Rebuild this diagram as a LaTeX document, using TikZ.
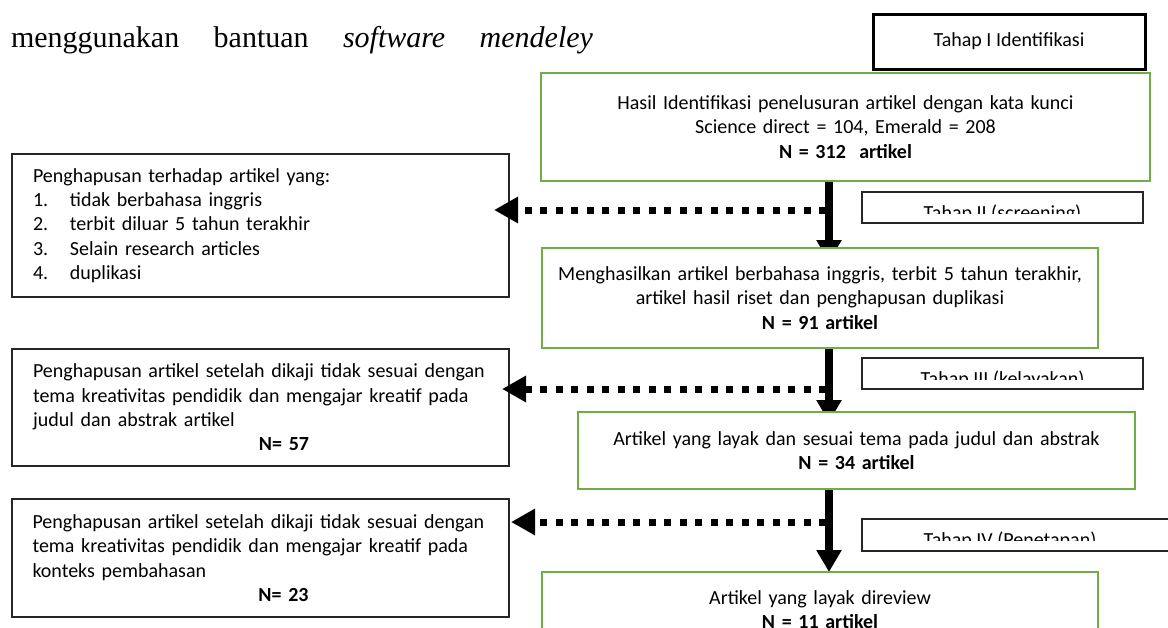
\documentclass[tikz,border=0pt]{standalone}
\usepackage{fontspec}
\setmainfont{Carlito}
\newfontfamily\titlefont{Liberation Serif}
\usetikzlibrary{arrows.meta,calc,backgrounds}
\definecolor{grn}{HTML}{70AD47}
\begin{document}
\begin{tikzpicture}[x=1pt,y=-1pt,
  every node/.style={font=\fontsize{20}{24.4}\selectfont, inner sep=0pt, outer sep=0pt},
  greenbox/.style={draw=grn, line width=2.6pt, fill=white, align=center, anchor=north west},
  graybox/.style={draw=black!85, line width=1.3pt, fill=white, anchor=north west, align=left},
  tahapbox/.style={draw=black!85, line width=1.5pt, fill=white, anchor=north west},
  flowarrow/.style={line width=8pt, -{Triangle[width=24pt,length=22pt]}},
  droparrow/.style={line width=7pt, dash pattern=on 7pt off 8.5pt, -{Triangle[width=25pt,length=24pt]}}]
\useasboundingbox (0,0) rectangle (1168,627);
\clip (0,0) rectangle (1168,627);

% title line
\node (title) [font=\titlefont\fontsize{30}{36}\selectfont, anchor=base west] at (11,47)
  {\makebox[582pt][s]{menggunakan bantuan \textit{software} \textit{mendeley}}};

% stage I box
\node (t1) [draw=black, line width=3pt, fill=white, anchor=north west, minimum width=272pt, minimum height=55pt] at (873,14) {Tahap I Identifikasi};

% green boxes
\node (g1) [greenbox, minimum width=609pt, minimum height=108pt, text width=600pt] at (541,73)
  {Hasil Identifikasi penelusuran artikel dengan kata kunci\\Science direct = 104, Emerald = 208\\\textbf{N = 312\ \ artikel}};
\node (g2) [greenbox, minimum width=556pt, minimum height=100pt, text width=550pt] at (542,248)
  {Menghasilkan artikel berbahasa inggris, terbit 5 tahun terakhir,\\artikel hasil riset dan penghapusan duplikasi\\\textbf{N = 91 artikel}};
\node (g3) [greenbox, minimum width=557pt, minimum height=77pt, text width=550pt] at (578,412)
  {Artikel yang layak dan sesuai tema pada judul dan abstrak\\\textbf{N = 34 artikel}};
\node (g4) [greenbox, minimum width=556pt, minimum height=75pt, text width=550pt] at (542,572)
  {Artikel yang layak direview\\\textbf{N = 11 artikel}};

% left boxes
\node (l1) [graybox, minimum width=497pt, minimum height=143pt, text width=455pt] at (12,154)
  {Penghapusan terhadap artikel yang:\\
   \makebox[37pt][l]{1.}tidak berbahasa inggris\\
   \makebox[37pt][l]{2.}terbit diluar 5 tahun terakhir\\
   \makebox[37pt][l]{3.}Selain research articles\\
   \makebox[37pt][l]{4.}duplikasi};
\node (l2) [graybox, minimum width=497pt, minimum height=117pt, text width=455pt] at (12,349)
  {Penghapusan artikel setelah dikaji tidak sesuai dengan\\
   tema kreativitas pendidik dan mengajar kreatif pada\\
   judul dan abstrak artikel\\
   \hspace*{226pt}\textbf{N= 57}};
\node (l3) [graybox, minimum width=497pt, minimum height=118pt, text width=456pt] at (12,499)
  {\makebox[456pt][s]{Penghapusan artikel setelah dikaji tidak sesuai dengan}\\
   \makebox[456pt][s]{tema kreativitas pendidik dan mengajar kreatif pada}\\
   konteks pembahasan\\
   \hspace*{226pt}\textbf{N= 23}};

% stage boxes II-IV with clipped text
\node (t2) [tahapbox, minimum width=281pt, minimum height=31pt] at (862,192) {};
\begin{scope}
  \clip ($(t2.north west)+(2,2)$) rectangle ($(t2.north west)+(279,21)$);
  \node (t2txt) [anchor=base] at ($(t2.north)+(0,27)$) {Tahap II (screening)};
\end{scope}
\node (t3) [tahapbox, minimum width=281pt, minimum height=31pt] at (862,358) {};
\begin{scope}
  \clip ($(t3.north west)+(2,2)$) rectangle ($(t3.north west)+(279,21)$);
  \node (t3txt) [anchor=base] at ($(t3.north)+(0,27)$) {Tahap III (kelayakan)};
\end{scope}
\node (t4) [tahapbox, minimum width=330pt, minimum height=32pt] at (862,519) {};
\begin{scope}
  \clip ($(t4.north west)+(2,2)$) rectangle ($(t4.north west)+(320,21)$);
  \node (t4txt) [anchor=base] at ($(t4.north west)+(148,27)$) {Tahap IV (Penetapan)};
\end{scope}

% vertical flow arrows (behind boxes)
\coordinate (vx) at (829,0);
\begin{pgfonlayer}{background}
  \fill[white] (0,0) rectangle (1168,627);
  \draw[flowarrow] (g1.south -| vx) -- ($(g2.north -| vx)+(0,14)$);
  \draw[flowarrow] (g2.south -| vx) -- ($(g3.north -| vx)+(0,10)$);
  \draw[flowarrow] (g3.south -| vx) -- (g4.north -| vx);
\end{pgfonlayer}

% dotted exclusion arrows
\coordinate (d1) at (826,210);
\coordinate (d2) at (826,389);
\coordinate (d3) at (826,522);
\draw[droparrow] (d1) -- ($(d1 -| l1.east)+(-15,0)$);
\draw[droparrow] (d2) -- ($(d2 -| l2.east)+(-7,0)$);
\draw[droparrow] (d3) -- ($(d3 -| l3.east)+(2,0)$);
\end{tikzpicture}
\end{document}
